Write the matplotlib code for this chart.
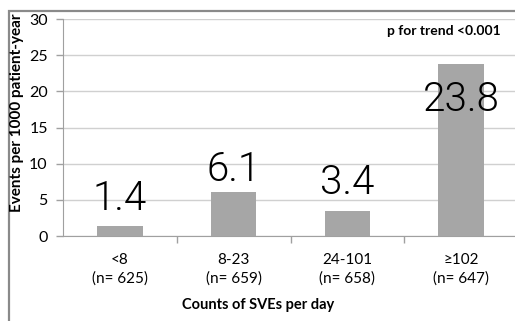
import matplotlib
matplotlib.use("Agg")
import matplotlib.pyplot as plt
from matplotlib.patches import Rectangle

categories = ["<8", "8-23", "24-101", "≥102"]
n_patients = [625, 659, 658, 647]
event_rates = [1.4, 6.1, 3.4, 23.8]
# label offsets in points (last label sits inside the bar)
label_offsets = [6, 2, 7, -40]

plt.rcParams["font.family"] = ["Lato", "DejaVu Sans"]

fig = plt.figure(figsize=(5.15, 3.21), dpi=100)
fig.patch.set_facecolor("white")

# outer chart frame
fig.patches.append(Rectangle((9 / 515, -0.1), 1.2, (321 - 11) / 321 + 0.1,
                             transform=fig.transFigure, fill=False,
                             edgecolor="#8a8a8a", linewidth=1.6))

ax = fig.add_axes([63 / 515, 85 / 321, 455 / 515, 217 / 321])
x = list(range(len(categories)))
ax.bar(x, event_rates, width=0.4, color="#a6a6a6", zorder=3)

for xi, v, off in zip(x, event_rates, label_offsets):
    ax.annotate(f"{v}", (xi, v), xytext=(0, off), textcoords="offset points",
                ha="center", va="bottom", fontsize=29, fontweight=300,
                family=["Roboto", "DejaVu Sans"], color="black", zorder=4)

ax.set_xlim(-0.5, len(categories) - 0.5)
ax.set_ylim(0, 30)
ax.set_yticks([0, 5, 10, 15, 20, 25, 30])
ax.yaxis.grid(True, color="#d0d0d0", linewidth=1, zorder=0)
ax.set_axisbelow(True)

ax.set_xticks([i + 0.5 for i in x[:-1]])
ax.set_xticklabels([])
ax.set_xticks(x, minor=True)
ax.set_xticklabels([f"{c}\n(n= {n})" for c, n in zip(categories, n_patients)],
                   minor=True, fontsize=11, linespacing=1.4)
ax.tick_params(axis="x", which="major", length=5, color="#a0a0a0", width=1)
ax.tick_params(axis="x", which="minor", length=0, pad=12)
ax.tick_params(axis="y", length=5, color="#a0a0a0", width=1, labelsize=11.5, pad=6)

for side in ["top", "right"]:
    ax.spines[side].set_visible(False)
for side in ["left", "bottom"]:
    ax.spines[side].set_color("#a0a0a0")

fig.text(17 / 515, 1 - 113 / 321, "Events per 1000 patient-year", rotation=90,
         ha="center", va="center", fontsize=11, fontweight="bold")
fig.text(258 / 515, 1 - 305 / 321, "Counts of SVEs per day",
         ha="center", va="center", fontsize=10.5, fontweight="bold")
fig.text(444 / 515, 1 - 31 / 321, "p for trend <0.001",
         ha="center", va="center", fontsize=10, fontweight="bold")

fig.savefig("out.png", dpi=100)
